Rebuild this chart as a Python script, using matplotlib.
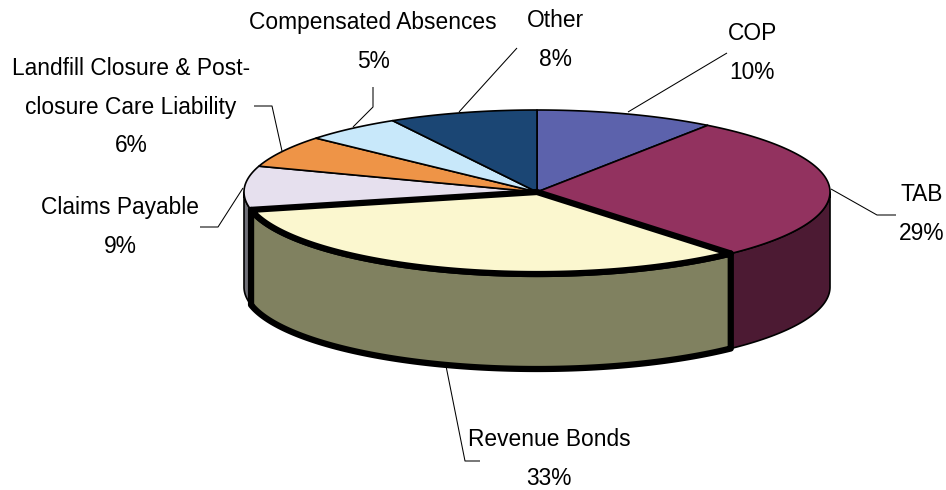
import numpy as np
import matplotlib
matplotlib.use("Agg")
import matplotlib.pyplot as plt
from matplotlib.patches import Polygon

categories = ["COP", "TAB", "Revenue Bonds", "Claims Payable",
              "Landfill Closure & Post-\nclosure Care Liability",
              "Compensated Absences", "Other"]
values = [9.9, 28.6, 33.0, 8.6, 6.3, 5.4, 8.2]
top_colors = ["#5C62AC", "#92325F", "#FBF7CF", "#E6E0EE", "#EE9447", "#C8E8FA", "#1B4674"]
side_colors = ["#2E3156", "#4C1A33", "#808160", "#6F6F77", "#774A24", "#64747D", "#0E233A"]
selected = "Revenue Bonds"

label_xy = [(752, 53), (922, 214), (549, 459), (120, 227), (131, 107), (373, 42), (555, 40)]
leaders = [[(628, 112), (727, 53)],
           [(831, 189), (877, 215), (896, 215)],
           [(446, 366), (465, 461), (480, 461)],
           [(243, 188), (218, 227), (200, 227)],
           [(282, 151), (272, 106), (254, 106)],
           [(353, 127), (373, 107), (373, 87)],
           [(459, 112), (517, 48)]]

CX, CY, RX, RY, DEPTH = 537.0, 192.0, 293.0, 82.0, 95.0
FONT = ["Liberation Sans", "DejaVu Sans"]

fig = plt.figure(figsize=(9.46, 4.90), dpi=100)
ax = fig.add_axes([0, 0, 1, 1])
ax.set_xlim(0, 946)
ax.set_ylim(490, 0)
ax.axis("off")


def rim(a0, a1, dy=0.0):
    t = np.radians(np.linspace(a0, a1, max(int(abs(a1 - a0) * 2), 2)))
    return np.column_stack([CX + RX * np.sin(t), CY + dy - RY * np.cos(t)])


edges = np.concatenate([[0], np.cumsum(values)]) / np.sum(values) * 360.0
order = sorted(range(len(values)), key=lambda i: categories[i] == selected)

# side walls (front half of the ellipse only: 90 to 270 degrees clockwise from top)
for i in order:
    a0, a1 = max(edges[i], 90.0), min(edges[i + 1], 270.0)
    if a1 <= a0:
        continue
    sel = categories[i] == selected
    pts = np.vstack([rim(a0, a1), rim(a1, a0, DEPTH)])
    ax.add_patch(Polygon(pts, closed=True, facecolor=side_colors[i], edgecolor="black",
                         linewidth=4.5 if sel else 1.2, joinstyle="round",
                         zorder=3 if sel else 1))

# top faces
for i in order:
    sel = categories[i] == selected
    pts = np.vstack([[(CX, CY)], rim(edges[i], edges[i + 1])])
    ax.add_patch(Polygon(pts, closed=True, facecolor=top_colors[i], edgecolor="black",
                         linewidth=4.5 if sel else 1.2, joinstyle="round",
                         zorder=4 if sel else 2))

for path in leaders:
    xs, ys = zip(*path)
    ax.plot(xs, ys, color="black", lw=0.75, zorder=0, solid_capstyle="butt")

for name, val, (x, y) in zip(categories, values, label_xy):
    ax.text(x, y, f"{name}\n{round(val)}%", ha="center", va="center", fontsize=16.4,
            family=FONT, color="black", linespacing=1.85, zorder=5)

fig.savefig("out.png", dpi=100)
